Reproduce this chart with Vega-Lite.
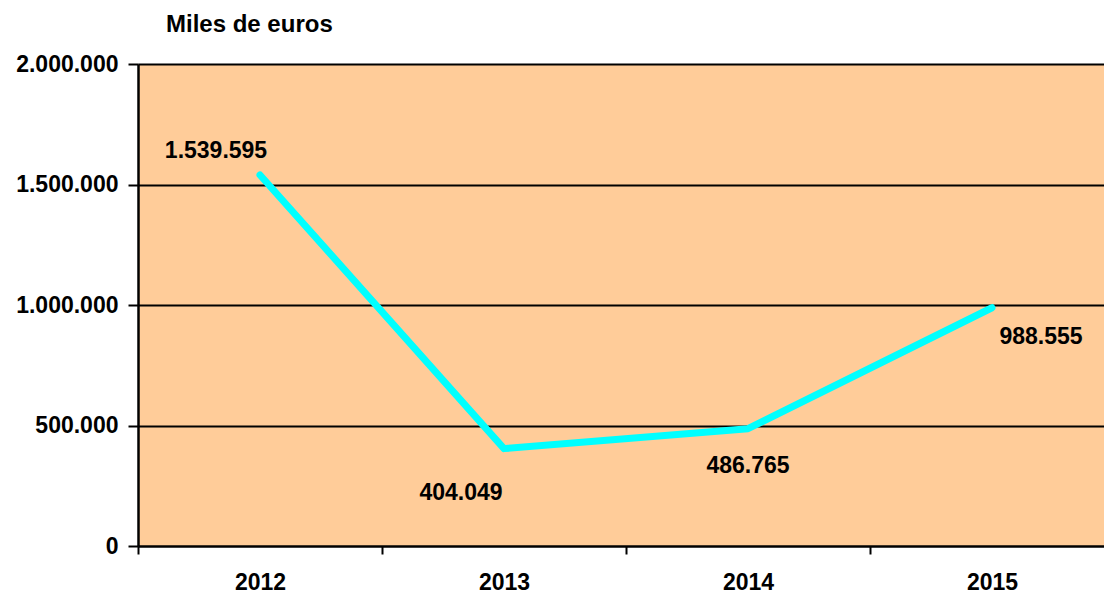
{
  "$schema": "https://vega.github.io/schema/vega-lite/v6.json",
  "autosize": {"type": "none"},
  "padding": {"left": 138, "top": 64, "right": 0, "bottom": 47},
  "width": 976,
  "height": 482,
  "background": "white",
  "title": {"text": "Miles de euros", "anchor": "start", "frame": "group", "dx": 28, "offset": 16, "fontSize": 24, "font": "Liberation Sans", "fontWeight": "bold", "color": "black"},
  "data": {"values": [
    {"year": "2012", "value": 1539595},
    {"year": "2013", "value": 404049},
    {"year": "2014", "value": 486765},
    {"year": "2015", "value": 988555}
  ]},
  "encoding": {
    "x": {"field": "year", "type": "nominal", "scale": {"type": "band", "paddingInner": 0, "paddingOuter": 0},
      "axis": {"title": null, "labelAngle": 0, "tickBand": "extent", "grid": false, "domainColor": "black", "domainWidth": 2, "tickColor": "black", "tickWidth": 2, "tickSize": 8, "labelPadding": 17, "labelFontSize": 23, "labelFont": "Liberation Sans", "labelFontWeight": "bold", "labelColor": "black"}},
    "y": {"field": "value", "type": "quantitative", "scale": {"domain": [0, 2000000], "nice": false},
      "axis": {"title": null, "values": [0, 500000, 1000000, 1500000, 2000000], "format": ",d", "grid": true, "gridColor": "black", "gridWidth": 2, "gridOpacity": 1, "domainColor": "black", "domainWidth": 2.5, "tickColor": "black", "tickWidth": 2, "tickSize": 10, "labelPadding": 10, "labelFontSize": 23, "labelFont": "Liberation Sans", "labelFontWeight": "bold", "labelColor": "black"}}
  },
  "layer": [
    {"mark": {"type": "line", "color": "#00FFFF", "strokeWidth": 7, "strokeCap": "round", "strokeJoin": "round"}},
    {"transform": [{"filter": "datum.year == '2012'"}], "mark": {"type": "text", "dx": -44, "dy": -24, "fontSize": 23, "font": "Liberation Sans", "fontWeight": "bold", "color": "black"}, "encoding": {"text": {"field": "value", "type": "quantitative", "format": ",d"}}},
    {"transform": [{"filter": "datum.year == '2013'"}], "mark": {"type": "text", "dx": -43, "dy": 44, "fontSize": 23, "font": "Liberation Sans", "fontWeight": "bold", "color": "black"}, "encoding": {"text": {"field": "value", "type": "quantitative", "format": ",d"}}},
    {"transform": [{"filter": "datum.year == '2014'"}], "mark": {"type": "text", "dx": 0, "dy": 37, "fontSize": 23, "font": "Liberation Sans", "fontWeight": "bold", "color": "black"}, "encoding": {"text": {"field": "value", "type": "quantitative", "format": ",d"}}},
    {"transform": [{"filter": "datum.year == '2015'"}], "mark": {"type": "text", "dx": 49, "dy": 29, "fontSize": 23, "font": "Liberation Sans", "fontWeight": "bold", "color": "black"}, "encoding": {"text": {"field": "value", "type": "quantitative", "format": ",d"}}}
  ],
  "config": {
    "view": {"fill": "#FFCC99", "stroke": null},
    "locale": {"number": {"decimal": ",", "thousands": ".", "grouping": [3], "currency": ["", " €"]}}
  }
}
